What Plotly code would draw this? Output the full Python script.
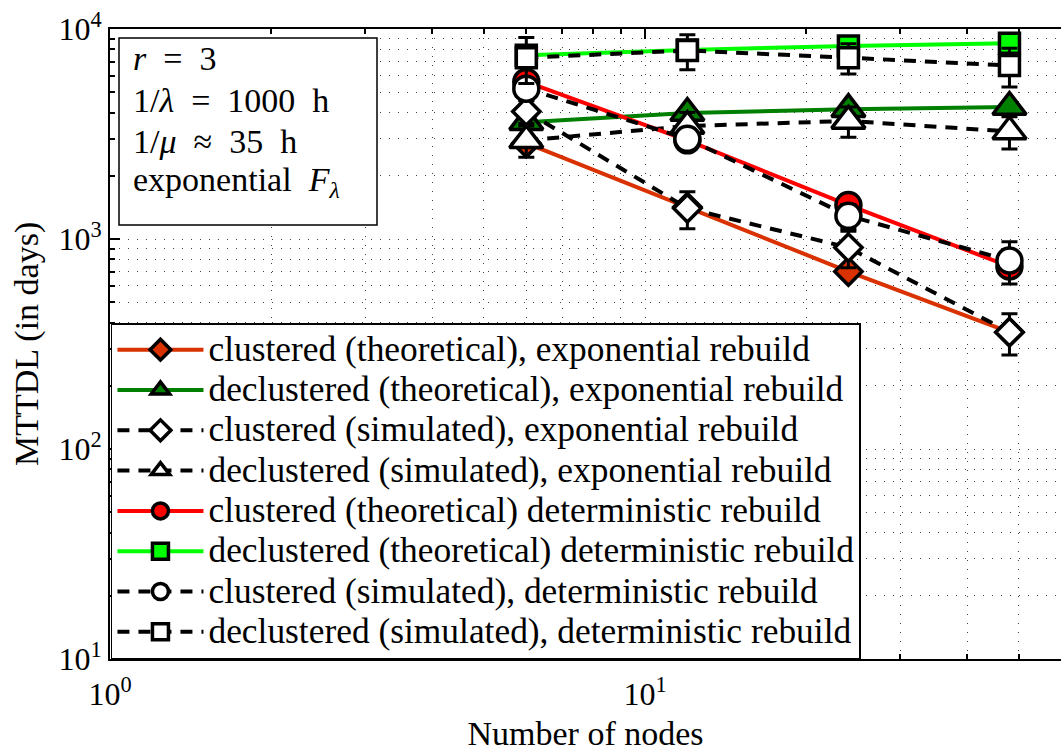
import plotly.graph_objects as go

# Number of nodes
nodes = [6, 12, 24, 48]

# MTTDL (in days), exponential rebuild
clu_theo_exp = [2860, 1420, 700, 360]
decl_theo_exp = [3600, 3980, 4150, 4250]
clu_sim_exp = [4050, 1400, 910, 360]
clu_sim_exp_err = [500, 280, 180, 80]
decl_sim_exp = [2950, 3450, 3650, 3250]
decl_sim_exp_err = [500, 550, 600, 570]

# MTTDL (in days), deterministic rebuild
clu_theo_det = [5600, 2950, 1450, 740]
decl_theo_det = [7500, 7950, 8300, 8550]
clu_sim_det = [5200, 3000, 1290, 790]
clu_sim_det_err = [600, 350, 170, 180]
decl_sim_det = [7300, 7900, 7300, 6700]
decl_sim_det_err = [1800, 1500, 1200, 1400]

labels = [
    "clustered (theoretical), exponential rebuild",
    "declustered (theoretical), exponential rebuild",
    "clustered (simulated), exponential rebuild",
    "declustered (simulated), exponential rebuild",
    "clustered (theoretical) deterministic rebuild",
    "declustered (theoretical) deterministic rebuild",
    "clustered (simulated), deterministic rebuild",
    "declustered (simulated), deterministic rebuild",
]

FONT = "Liberation Serif"
W, H = 1061, 754
ML, MT, MB = 110, 29, 95
PLOT_H = H - MT - MB
DECADE_PX = 535

fig = go.Figure()


def legend_name(text):
    # legend rows stay compact while the label text is set larger
    return '<span style="font-size:35.4px">' + text + "</span>"


def theo(y, name, color, symbol, size):
    fig.add_trace(go.Scatter(
        x=nodes, y=y, name=legend_name(name), mode="lines+markers",
        line=dict(color=color, width=4),
        marker=dict(symbol=symbol, size=size, color=color,
                    line=dict(color="black", width=3.5)),
        legendgroup=name,
    ))


def sim(y, err, name, symbol, size):
    fig.add_trace(go.Scatter(
        x=nodes, y=y, name=legend_name(name), mode="lines+markers",
        line=dict(color="black", width=4, dash="12px,9px"),
        marker=dict(symbol=symbol, size=size, color="white",
                    line=dict(color="black", width=3.5)),
        error_y=dict(type="data", array=err, color="black",
                     thickness=3, width=8),
        legendgroup=name,
    ))


theo(clu_theo_exp, labels[0], "#D93200", "diamond", 21)
theo(decl_theo_exp, labels[1], "#007F00", "triangle-up", 29)
sim(clu_sim_exp, clu_sim_exp_err, labels[2], "diamond", 21)
sim(decl_sim_exp, decl_sim_exp_err, labels[3], "triangle-up", 29)
theo(clu_theo_det, labels[4], "#FF0000", "circle", 25)
theo(decl_theo_det, labels[5], "#00FF00", "square", 20)
sim(clu_sim_det, clu_sim_det_err, labels[6], "circle", 25)
sim(decl_sim_det, decl_sim_det_err, labels[7], "square", 20)

plot_w = W - ML
x_hi = plot_w / DECADE_PX

grid = dict(gridcolor="#444444", gridwidth=1, griddash="1px,8px")
minor_x = [m * 10 ** k for k in range(0, 2) for m in range(2, 10)]
minor_y = [m * 10 ** k for k in range(1, 4) for m in range(2, 10)]

fig.update_xaxes(
    type="log", range=[0, x_hi],
    tickvals=[1, 10], ticktext=["10<sup>0</sup>", "10<sup>1</sup>"],
    ticks="inside", ticklen=10, tickwidth=1.5, tickcolor="black",
    ticklabelstandoff=6,
    showline=True, linecolor="black", linewidth=2, mirror="allticks",
    showgrid=True, **grid,
    minor=dict(tickvals=minor_x, ticks="inside", ticklen=5,
               tickcolor="black", showgrid=True, **grid),
    tickfont=dict(family=FONT, size=32, color="black"),
    title=dict(text="Number of nodes", standoff=10,
               font=dict(family=FONT, size=34, color="black")),
    zeroline=False,
)
fig.update_yaxes(
    type="log", range=[1, 4],
    tickvals=[10, 100, 1000, 10000],
    ticktext=["10<sup>1</sup>", "10<sup>2</sup>", "10<sup>3</sup>", "10<sup>4</sup>"],
    ticks="inside", ticklen=10, tickwidth=1.5, tickcolor="black",
    showline=True, linecolor="black", linewidth=2, mirror=False,
    showgrid=True, **grid,
    minor=dict(tickvals=minor_y, ticks="inside", ticklen=5,
               tickcolor="black", showgrid=True, **grid),
    tickfont=dict(family=FONT, size=32, color="black"),
    zeroline=False,
)

# y-axis title, set as rotated text left of the tick labels
fig.add_annotation(
    xref="paper", yref="paper", x=(27 - ML) / plot_w, y=0.5,
    xanchor="center", yanchor="middle", textangle=-90,
    text="MTTDL (in days)", showarrow=False,
    font=dict(family=FONT, size=34, color="black"),
)

# parameter box in the upper-left corner
box_lines = [
    "<i>r</i>  =  3",
    "1/<i>λ</i>  =  1000  h",
    "1/<i>μ</i>  ≈  35  h",
    "exponential  <i>F</i><sub><i>λ</i></sub>",
]
box_centers = [58, 100, 141, 182]
fig.add_shape(type="rect", xref="paper", yref="paper",
              x0=9 / plot_w, x1=267 / plot_w,
              y0=1 - (225 - MT) / PLOT_H, y1=1 - (38 - MT) / PLOT_H,
              line=dict(color="black", width=1.5), fillcolor="white",
              layer="above")
for t, yc in zip(box_lines, box_centers):
    fig.add_annotation(
        xref="paper", yref="paper", x=21 / plot_w,
        y=1 - (yc - MT) / PLOT_H,
        xanchor="left", yanchor="middle", text=t, showarrow=False,
        font=dict(family=FONT, size=34, color="black"),
    )

fig.update_layout(
    width=W, height=H,
    margin=dict(l=ML, r=0, t=MT, b=MB),
    plot_bgcolor="white", paper_bgcolor="white",
    showlegend=True,
    legend=dict(
        x=0.001, y=1 - (323 - MT) / PLOT_H, xanchor="left", yanchor="top",
        bgcolor="white", bordercolor="black", borderwidth=1.5,
        font=dict(family=FONT, size=28.7, color="black"),
        itemwidth=86, tracegroupgap=0,
    ),
)

fig.write_html("out.html")
